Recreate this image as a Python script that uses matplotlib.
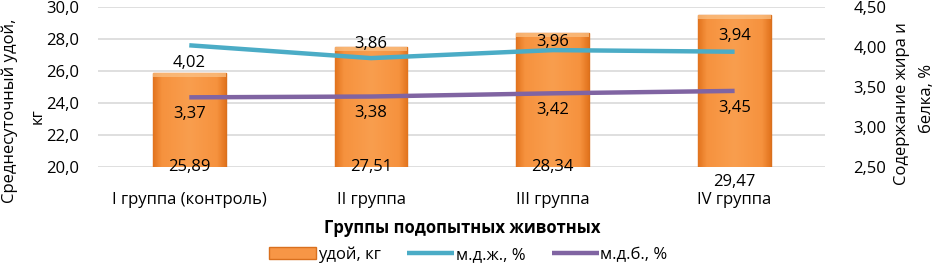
import matplotlib.pyplot as plt
import numpy as np
from matplotlib.ticker import FuncFormatter
from matplotlib.colors import LinearSegmentedColormap

plt.rcParams['font.family'] = ['Open Sans', 'DejaVu Sans']
fs = 12

# данные
groups = ["I группа (контроль)", "II группа", "III группа", "IV группа"]
udoy = [25.89, 27.51, 28.34, 29.47]
mdzh = [4.02, 3.86, 3.96, 3.94]
mdb = [3.37, 3.38, 3.42, 3.45]

def zpt(v, n):
    return f"{v:.{n}f}".replace('.', ',')

fig = plt.figure(figsize=(9.37, 2.65), dpi=100)
ax = fig.add_axes([0.105, 0.370, 0.776, 0.604])
ax2 = ax.twinx()

x = np.arange(len(groups))
bars = ax.bar(x, udoy, width=0.4, color='#F79646', edgecolor='#D9701E', linewidth=1.0, zorder=2)

# лёгкий градиент на столбцах (края темнее)
cmap = LinearSegmentedColormap.from_list('og', [(0, '#E2741E'), (0.12, '#F6923E'), (0.5, '#F99E4E'),
                                                (0.88, '#F6923E'), (1, '#E2741E')])
grad = np.linspace(0, 1, 200).reshape(1, -1)
for b in bars:
    x0, w, h = b.get_x(), b.get_width(), b.get_height()
    im = ax.imshow(grad, cmap=cmap, aspect='auto', extent=(x0, x0 + w, 20, h), zorder=2.1)
    im.set_clip_path(b)
    # светлая полоска сверху
    ax.fill_between([x0, x0 + w], h - 0.25, h, color='#FBC48A', alpha=0.7, zorder=2.2, linewidth=0)

ax.set_ylim(20, 30)
ax.set_xlim(-0.5, 3.5)
ax.set_yticks(np.arange(20, 30.1, 2))
ax.yaxis.set_major_formatter(FuncFormatter(lambda v, p: zpt(v, 1)))
ax.grid(axis='y', color='#D9D9D9', linewidth=1.2, zorder=0)
ax.set_axisbelow(True)
ax.set_xticks(x)
ax.set_xticklabels(groups)
ax.tick_params(axis='x', length=0, labelsize=fs, pad=18)
ax.tick_params(axis='y', length=0, labelsize=fs, pad=14)
for s in ax.spines.values():
    s.set_visible(False)
for s in ax2.spines.values():
    s.set_visible(False)

# подписи столбцов
for i, v in enumerate(udoy):
    dy = 0 if i < 3 else -11
    ax.annotate(zpt(v, 2), (x[i], 20), xytext=(0, dy), textcoords='offset points',
                ha='center', va='center', fontsize=fs, zorder=5, annotation_clip=False)

ax2.plot(x, mdzh, color='#4BACC6', linewidth=3.2, solid_capstyle='butt', zorder=3)
ax2.plot(x, mdb, color='#8064A2', linewidth=3.2, solid_capstyle='butt', zorder=3)
ax2.set_ylim(2.5, 4.5)
ax2.set_yticks(np.arange(2.5, 4.51, 0.5))
ax2.yaxis.set_major_formatter(FuncFormatter(lambda v, p: zpt(v, 2)))
ax2.tick_params(length=0, labelsize=fs, pad=20)

zh_off = [-13, 10, 6, 11]
for i, v in enumerate(mdzh):
    ax2.annotate(zpt(v, 2), (x[i], v), xytext=(0, zh_off[i]), textcoords='offset points',
                 ha='center', va='center', fontsize=fs)
for i, v in enumerate(mdb):
    ax2.annotate(zpt(v, 2), (x[i], v), xytext=(0, -12), textcoords='offset points',
                 ha='center', va='center', fontsize=fs)

# подписи осей
fig.text(0.010, 0.58, "Среднесуточный удой,", rotation=90, ha='center', va='center', fontsize=fs)
fig.text(0.040, 0.56, "кг", rotation=90, ha='center', va='center', fontsize=fs)
fig.text(0.963, 0.61, "Содержание жира и", rotation=90, ha='center', va='center', fontsize=fs)
fig.text(0.989, 0.63, "белка, %", rotation=90, ha='center', va='center', fontsize=fs)
fig.text(0.493, 0.14, "Группы подопытных животных", ha='center', va='center', fontsize=fs, fontweight='bold')

handles = [bars, ax2.lines[0], ax2.lines[1]]
fig.legend(handles, ["удой, кг", "м.д.ж., %", "м.д.б., %"], loc='center', bbox_to_anchor=(0.5, 0.04),
           ncol=3, frameon=False, fontsize=fs, handlelength=2.8, columnspacing=1.6, handletextpad=0.1)

fig.savefig("out.png", dpi=100)
